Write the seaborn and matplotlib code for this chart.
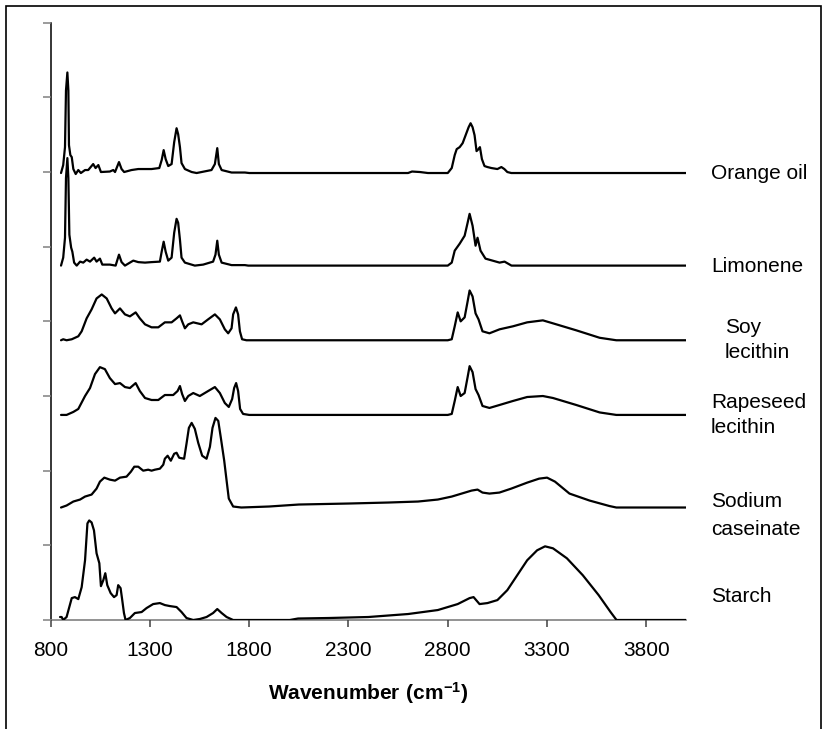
import numpy as np
import pandas as pd
import matplotlib
matplotlib.use("Agg")
import matplotlib.pyplot as plt
import seaborn as sns
from matplotlib.patches import Rectangle

sns.set_theme(style="white")
plt.rcParams['font.family'] = ['Liberation Sans', 'DejaVu Sans']
plt.rcParams['mathtext.fontset'] = 'custom'
plt.rcParams['mathtext.rm'] = 'Liberation Sans'
plt.rcParams['mathtext.bf'] = 'Liberation Sans:bold'

# ---------------- data ----------------
names = ["Orange oil", "Limonene", "Soy lecithin", "Rapeseed lecithin",
         "Sodium caseinate", "Starch"]
offsets = [449, 356, 281, 206, 113, 0]

orange_wn = [852, 863, 872, 877, 884, 889, 892, 899, 906, 914, 926, 939, 952, 973, 989,
             1014, 1026, 1040, 1053, 1098, 1115, 1124, 1144, 1157, 1170, 1207, 1241, 1308,
             1347, 1359, 1369, 1379, 1392, 1409, 1422, 1434, 1442, 1451, 1459, 1476, 1510,
             1535, 1560, 1610, 1627, 1639, 1647, 1661, 1711, 1778, 1800, 2600, 2620, 2660,
             2700, 2800, 2820, 2835, 2845, 2860, 2875, 2890, 2905, 2915, 2925, 2935, 2945,
             2955, 2962, 2972, 2985, 3000, 3020, 3050, 3070, 3085, 3100, 3120, 4000]
orange_h = [0, 8, 26, 83, 101, 83, 28, 18, 16, 4, -1, 3, 0, 3, 3,
            9, 5, 8, 1, 1.5, 3, 1, 11, 4, 1, 3, 4, 4,
            5, 13, 23, 14, 7, 9, 31, 45, 39, 26, 10, 4, 1,
            0, 1, 3, 9, 25, 9, 3, 0.5, 0.5, 0, 0, 1.5, 1,
            0, 0, 5, 18, 24, 26, 30, 38, 46, 50, 46, 38, 22,
            24, 26, 14, 7, 6, 5, 4, 6, 4, 1, 0, 0]

limonene_wn = [852, 863, 872, 877, 884, 889, 894, 903, 909, 918, 931, 948, 964, 981, 998,
               1019, 1031, 1048, 1060, 1098, 1127, 1144, 1157, 1174, 1199, 1216, 1241, 1275,
               1308, 1350, 1359, 1369, 1379, 1392, 1409, 1422, 1434, 1442, 1451, 1459, 1476,
               1526, 1568, 1618, 1630, 1639, 1647, 1661, 1711, 1778, 1795, 2800, 2820, 2835,
               2860, 2885, 2900, 2910, 2925, 2940, 2950, 2965, 2990, 3061, 3086, 3121, 4000]
limonene_h = [0, 8, 28, 88, 108, 88, 31, 18, 14, 3, 0, 4, 3, 6, 4,
              8, 4, 7, 1, 1, 0, 11, 3.5, 0, 3, 5, 3.5, 3,
              3.5, 4, 14, 24, 14, 5, 8, 33, 47, 43, 26, 8, 3,
              0, 1, 4, 11, 25, 11, 3, 0.5, 0.5, 0, 0, 3, 15,
              22, 30, 43, 52, 40, 20, 28, 15, 7, 3, 4, 0, 0]

soy_wn = [852, 863, 880, 906, 939, 956, 981, 1006, 1031, 1057, 1082, 1107, 1124, 1149,
          1174, 1199, 1228, 1249, 1275, 1308, 1342, 1375, 1409, 1434, 1451, 1462, 1476,
          1493, 1518, 1560, 1593, 1627, 1652, 1677, 1694, 1711, 1719, 1733, 1744, 1753,
          1764, 1786, 2800, 2820, 2835, 2850, 2865, 2885, 2900, 2910, 2925, 2940, 2955,
          2975, 3010, 3061, 3128, 3200, 3279, 3330, 3447, 3565, 3649, 4000]
soy_h = [0, 1, 0, 1, 4, 9, 22, 31, 42, 46, 42, 32, 27, 32,
         26, 24, 28, 22, 16, 13, 13, 18, 18, 22, 25, 19, 12,
         16, 18, 16, 21, 26, 21, 11, 7, 12, 26, 33, 26, 9,
         1, 0, 0, 1, 14, 28, 19, 23, 39, 50, 44, 27, 21,
         9, 7, 11, 14, 18, 20, 17, 10, 2.5, 0, 0]

rapeseed_wn = [852, 880, 914, 939, 973, 998, 1023, 1048, 1073, 1098, 1124, 1149, 1174,
               1199, 1228, 1249, 1275, 1308, 1342, 1375, 1417, 1439, 1451, 1462, 1476,
               1493, 1518, 1551, 1593, 1627, 1652, 1677, 1697, 1714, 1724, 1734, 1744,
               1754, 1769, 1800, 2800, 2820, 2835, 2850, 2865, 2885, 2900, 2910, 2925,
               2940, 2955, 2975, 3010, 3061, 3128, 3200, 3279, 3330, 3447, 3565, 3649, 4000]
rapeseed_h = [0, 0, 3, 6, 19, 27, 41, 48, 46, 37, 31, 32, 28,
              27, 32, 24, 17, 15, 15, 20, 20, 24, 29, 21, 14,
              19, 22, 19, 24, 28, 22, 12, 8, 16, 27, 32, 24,
              6, 1, 0, 0, 1, 14, 28, 19, 22, 38, 49, 43,
              26, 20, 9, 7, 10, 14, 18, 19, 17, 10, 2.5, 0, 0]

caseinate_wn = [852, 880, 914, 948, 973, 1006, 1031, 1048, 1070, 1098, 1124, 1149, 1182,
                1204, 1221, 1241, 1266, 1291, 1308, 1325, 1350, 1367, 1375, 1389, 1405,
                1422, 1434, 1447, 1472, 1484, 1496, 1510, 1526, 1543, 1563, 1585, 1602,
                1615, 1630, 1644, 1657, 1674, 1686, 1697, 1719, 1760, 1900, 2050, 2300,
                2500, 2650, 2750, 2820, 2870, 2920, 2950, 2975, 3010, 3060, 3120, 3200,
                3260, 3300, 3340, 3413, 3514, 3614, 3649, 4000]
caseinate_h = [0, 2, 6, 8, 11, 13, 19, 26, 30, 28, 27, 30, 31,
               36, 41, 41, 37, 38, 37, 38, 39, 43, 49, 52, 47,
               54, 55, 50, 49, 64, 80, 85, 79, 65, 52, 49, 61,
               80, 90, 87, 70, 47, 27, 9, 1, 0, 1, 3, 4,
               5, 6, 8, 11, 14, 17, 18, 15, 14, 15, 19, 25,
               29, 30, 26, 14, 7, 1.5, 0, 0]

starch_wn = [847, 855, 863, 880, 906, 922, 939, 956, 973, 985, 994, 1006, 1018, 1031,
             1045, 1053, 1065, 1075, 1085, 1102, 1119, 1132, 1140, 1152, 1159, 1169, 1177,
             1199, 1224, 1258, 1283, 1316, 1350, 1375, 1400, 1434, 1459, 1484, 1518, 1551,
             1585, 1618, 1639, 1661, 1686, 1719, 2004, 2046, 2200, 2400, 2600, 2750, 2850,
             2910, 2930, 2960, 3000, 3050, 3100, 3150, 3200, 3250, 3290, 3330, 3400, 3480,
             3560, 3620, 3650, 4000]
starch_h = [3, 3, 0, 3, 22, 23, 21, 33, 60, 97, 100, 98, 90, 67,
            57, 34, 40, 47, 35, 27, 23, 25, 35, 32, 22, 7, 0,
            2, 7, 8, 12, 16, 17, 15, 14, 13, 8, 2, 0, 1,
            3, 7, 11, 7, 3, 0, 0, 1.5, 2, 3, 6, 10, 16,
            22, 23, 16, 17, 20, 30, 45, 60, 70, 74, 72, 62, 45,
            25, 8, 0, 0]

x_ticks = [800, 1300, 1800, 2300, 2800, 3300, 3800]

series = [(orange_wn, orange_h), (limonene_wn, limonene_h), (soy_wn, soy_h),
          (rapeseed_wn, rapeseed_h), (caseinate_wn, caseinate_h), (starch_wn, starch_h)]

frames = []
for name, off, (wn, h) in zip(names, offsets, series):
    frames.append(pd.DataFrame({"wn": wn, "y": np.asarray(h, float) + off, "name": name}))
df = pd.concat(frames, ignore_index=True)

# ---------------- figure ----------------
W, H = 827, 729
fig = plt.figure(figsize=(W / 100, H / 100), dpi=100)
fig.patch.set_facecolor("white")

def fx(px):
    return px / W

def fy(py):
    return 1 - py / H

ax = fig.add_axes([fx(50.7), fy(620), fx(686) - fx(50.7), fy(22.7) - fy(620)])
ax.set_facecolor("white")

sns.lineplot(data=df, x="wn", y="y", units="name", estimator=None, sort=False,
             color="black", linewidth=1.6, ax=ax, legend=False)

ax.set_xlim(800, 4000)
ax.set_ylim(0, 600)
ax.set_xticks(x_ticks)
ax.set_xticklabels([str(t) for t in x_ticks])
ax.set_yticks(np.arange(0, 601, 75))
ax.set_yticklabels([])
ax.set_xlabel("")
ax.set_ylabel("")

for s in ["top", "right"]:
    ax.spines[s].set_visible(False)
ax.spines["left"].set_color("black")
ax.spines["left"].set_linewidth(1.1)
ax.spines["bottom"].set_color("#808080")
ax.spines["bottom"].set_linewidth(1.2)
ax.spines["left"].set_zorder(0.5)
ax.spines["bottom"].set_zorder(0.5)

ax.tick_params(axis="y", direction="out", length=5.5, width=1.1, color="#808080", left=True)
ax.tick_params(axis="x", direction="out", length=5, width=1.1, color="#404040",
               labelsize=15, pad=10, bottom=True, labelcolor="black")

fig.text(fx(368), fy(693), r"$\mathbf{Wavenumber\ (cm^{-1})}$", ha="center", va="center",
         fontsize=15, color="black")

labels = [("Orange oil", 711, 179), ("Limonene", 711, 272), ("Soy", 725, 333),
          ("lecithin", 725, 358), ("Rapeseed", 711, 408), ("lecithin", 711, 433),
          ("Sodium", 711, 507), ("caseinate", 711, 535), ("Starch", 711, 602)]
for txt, px, py in labels:
    fig.text(fx(px), fy(py), txt, ha="left", va="baseline", fontsize=15, color="black")

fig.patches.append(Rectangle((fx(5.8), -0.02), fx(821) - fx(5.8), fy(5.5) + 0.02,
                             transform=fig.transFigure, fill=False, edgecolor="black",
                             linewidth=1.2))

fig.savefig("out.png", dpi=100, facecolor="white")
